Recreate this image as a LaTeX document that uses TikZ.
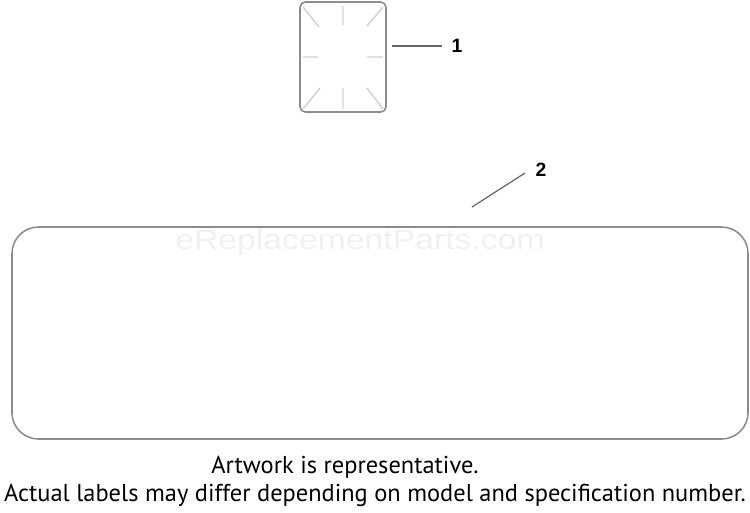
\documentclass[tikz,border=0pt]{standalone}
\usepackage{fontspec}
\setmainfont{PT Sans}
\newfontfamily\numfont{Liberation Sans}
\usepackage{tikz}

\begin{document}
\begin{tikzpicture}[x=0.02cm,y=-0.02cm,semithick]
  \tikzstyle{outline}=[draw=black!45,line width=0.9pt]
  \tikzstyle{tick}=[draw=black!18,line width=0.8pt]
  \tikzstyle{leader}=[draw=black!60,line width=0.7pt]
  \tikzstyle{callout}=[font=\numfont\bfseries\fontsize{11}{12}\selectfont,inner sep=0pt]
  \tikzstyle{note}=[font=\fontsize{13.9}{15}\selectfont,inner sep=0pt]

  \useasboundingbox (0,0) rectangle (750,512);

  % small label
  \draw[outline,rounded corners=3] (300,2) rectangle (386,112);
  \draw[tick] (343,6) -- (343,25)  (343,88) -- (343,109)
              (303,57) -- (318,57) (367,57) -- (383,57)
              (303,7) -- (319,27)  (383,7) -- (367,26)
              (303,109) -- (320,88) (383,109) -- (367,88);

  % large label
  \draw[outline,rounded corners=15] (12,227) rectangle (748,439);

  \node[text=black!6,font=\numfont\fontsize{16}{18}\selectfont,xscale=1.2]
    (wm) at (360,242) {eReplacementParts.com};

  \coordinate (a1) at (392,46);
  \coordinate (a2) at (442,46);
  \node[callout,anchor=west] (n1) at (451,46) {1};
  \coordinate (b1) at (472,207);
  \coordinate (b2) at (525,173);
  \node[callout] (n2) at (541,170) {2};
  \path[leader] (a1) edge (a2)
                (b1) edge (b2);

  \node[note] (t1) at (345,467) {Artwork is representative.};
  \node[note] (t2) at (375,495)
    {Actual labels may differ depending on model and specification number.};
\end{tikzpicture}
\end{document}
